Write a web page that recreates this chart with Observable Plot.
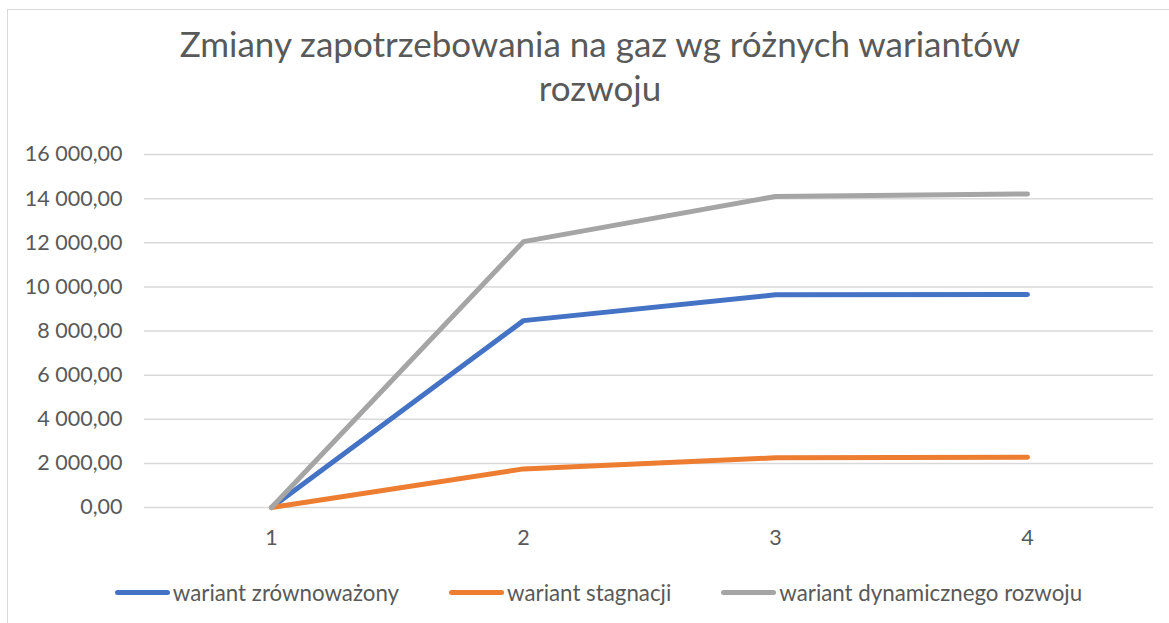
<!DOCTYPE html>
<html>
<head>
<meta charset="utf-8">
<script src="https://cdn.jsdelivr.net/npm/d3@7"></script>
<script src="https://cdn.jsdelivr.net/npm/@observablehq/plot@0.6"></script>
<style>
  html, body { margin: 0; padding: 0; background: #fff; overflow: hidden; width: 1169px; height: 623px; }
  body { position: relative; font-family: Lato, "Open Sans", sans-serif; color: #595959; }
  #frame { position: absolute; left: 7px; top: 9px; width: 1400px; height: 800px;
           border-left: 1.5px solid #d9d9d9; border-top: 1.5px solid #d9d9d9; }
  .title { position: absolute; left: 0; width: 1200px; text-align: center; font-size: 35px;
           font-weight: 400; line-height: 42px; color: #595959; white-space: nowrap; }
  #chart { position: absolute; left: 0; top: 130px; }
  #legend { position: absolute; left: 0; width: 1197px; top: 578px; height: 28px; display: flex;
            justify-content: center; align-items: center; gap: 50px; font-size: 22.3px; }
  .item { display: flex; align-items: center; gap: 3px; white-space: nowrap; }
  .sw { width: 55px; height: 5px; border-radius: 3px; }
</style>
</head>
<body>
<div id="frame"></div>
<div class="title" style="top:22px">Zmiany zapotrzebowania na gaz wg różnych wariantów</div>
<div class="title" style="top:66px">rozwoju</div>
<div id="chart"></div>
<div id="legend"></div>
<script>
const categories = [1, 2, 3, 4];
const seriesNames = ["wariant zrównoważony", "wariant stagnacji", "wariant dynamicznego rozwoju"];
const seriesColors = ["#4472C4", "#ED7D31", "#A5A5A5"];
const zrownowazony = [0, 8470, 9640, 9650];
const stagnacji = [0, 1750, 2250, 2280];
const dynamicznego = [0, 12050, 14100, 14210];
const yTicks = [0, 2000, 4000, 6000, 8000, 10000, 12000, 14000, 16000];

const seriesValues = [zrownowazony, stagnacji, dynamicznego];
const data = [];
seriesNames.forEach((name, i) => {
  categories.forEach((c, j) => data.push({series: name, cat: c, value: seriesValues[i][j]}));
});

const fmt = n => d3.format(",.2f")(n).replace(/,/g, " ").replace(".", ",");

const chart = Plot.plot({
  width: 1169,
  height: 430,
  marginTop: 24,
  marginBottom: 53,
  marginLeft: 144,
  marginRight: 16,
  style: { fontFamily: "Lato, 'Open Sans', sans-serif", color: "#595959", background: "transparent" },
  x: { type: "point", domain: categories, padding: 0.5 },
  y: { domain: [0, 16000] },
  color: { domain: seriesNames, range: seriesColors },
  marks: [
    Plot.ruleY(yTicks, { stroke: "#d9d9d9", strokeWidth: 1.5 }),
    Plot.axisY({ ticks: yTicks, tickFormat: fmt, tickSize: 0, tickPadding: 22, fontSize: 21.5, label: null }),
    Plot.axisX({ tickSize: 0, tickPadding: 22, fontSize: 21.5, label: null }),
    Plot.lineY(data, { x: "cat", y: "value", z: "series", stroke: "series", strokeWidth: 5,
                       strokeLinecap: "round", strokeLinejoin: "round" })
  ]
});
document.getElementById("chart").appendChild(chart);

const legend = document.getElementById("legend");
seriesNames.forEach((name, i) => {
  const item = document.createElement("div");
  item.className = "item";
  const sw = document.createElement("div");
  sw.className = "sw";
  sw.style.background = seriesColors[i];
  const t = document.createElement("span");
  t.textContent = name;
  item.appendChild(sw);
  item.appendChild(t);
  legend.appendChild(item);
});
</script>
</body>
</html>
